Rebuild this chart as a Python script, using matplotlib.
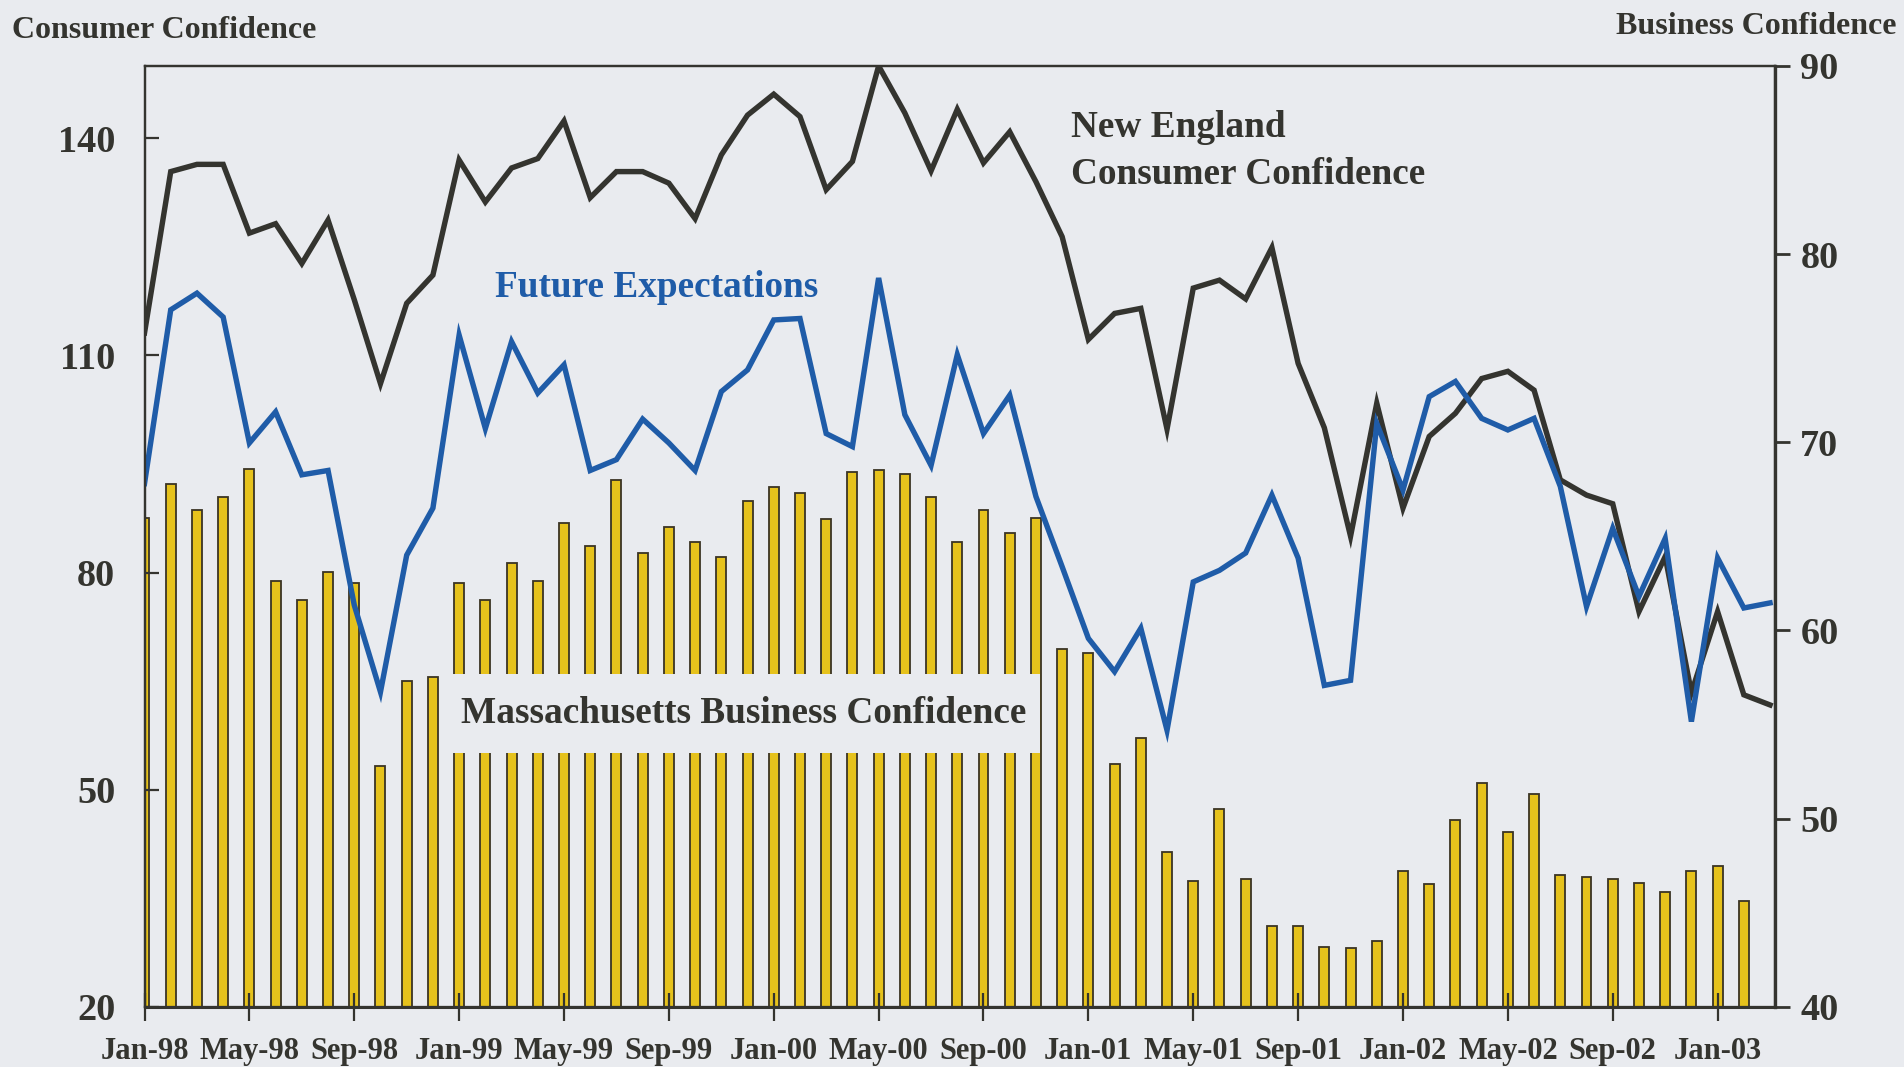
import matplotlib
matplotlib.use('Agg')
import matplotlib.pyplot as plt
import numpy as np

"""
New England consumer confidence vs Massachusetts business confidence, Jan-98 to Mar-03
"""

tick_labels = ['Jan-98', 'May-98', 'Sep-98', 'Jan-99', 'May-99', 'Sep-99', 'Jan-00', 'May-00',
               'Sep-00', 'Jan-01', 'May-01', 'Sep-01', 'Jan-02', 'May-02', 'Sep-02', 'Jan-03']

# monthly, Jan-98 .. Mar-03 (left scale)
consumer = [113.1, 135.4, 136.4, 136.4, 126.9, 128.2, 122.7, 128.7, 117.7, 106.1, 117.2, 121.1,
            137.0, 131.2, 135.9, 137.2, 142.4, 131.8, 135.4, 135.4, 133.8, 128.9, 137.7, 143.2,
            146.1, 143.0, 132.9, 136.8, 150.0, 143.5, 135.5, 144.0, 136.6, 140.9, 134.0, 126.4,
            112.2, 115.8, 116.5, 99.8, 119.3, 120.4, 117.8, 124.9, 108.9, 100.0, 85.0, 103.4,
            88.9, 98.8, 102.0, 106.8, 107.8, 105.2, 92.8, 90.7, 89.5, 74.6, 82.2, 63.4,
            74.6, 63.1, 61.7]

expectations = [92.3, 116.3, 118.6, 115.3, 97.9, 102.2, 93.5, 94.1, 75.5, 63.5, 82.4, 88.9,
                112.8, 99.9, 111.9, 104.8, 108.7, 94.1, 95.6, 101.2, 97.9, 94.1, 105.0, 108.0,
                114.9, 115.1, 99.2, 97.4, 120.7, 101.8, 94.8, 110.1, 99.2, 104.5, 90.5, 80.8,
                70.9, 66.3, 72.3, 58.2, 78.7, 80.3, 82.7, 90.7, 82.0, 64.4, 65.1, 100.6,
                91.4, 104.3, 106.4, 101.3, 99.7, 101.3, 91.9, 75.3, 86.1, 76.7, 84.7, 59.4,
                82.0, 75.1, 75.8]

# monthly, Jan-98 .. Feb-03 (right scale)
business = [66.0, 67.8, 66.4, 67.1, 68.6, 62.6, 61.6, 63.1, 62.5, 52.8, 57.3, 57.5,
            62.5, 61.6, 63.6, 62.6, 65.7, 64.5, 68.0, 64.1, 65.5, 64.7, 63.9, 66.9,
            67.6, 67.3, 65.9, 68.4, 68.5, 68.3, 67.1, 64.7, 66.4, 65.2, 66.0, 59.0,
            58.8, 52.9, 54.3, 48.2, 46.7, 50.5, 46.8, 44.3, 44.3, 43.2, 43.1, 43.5,
            47.2, 46.5, 49.9, 51.9, 49.3, 51.3, 47.0, 46.9, 46.8, 46.6, 46.1, 47.2,
            47.5, 45.6]

bg = '#e9ebef'
dark = '#34342f'
blue = '#1f5ca8'
gold = '#e6c21c'

plt.rcParams['font.family'] = 'Liberation Serif'
plt.rcParams['font.weight'] = 'bold'


def makeChart():
    fig = plt.figure(figsize=(19.04, 10.67), dpi=100, facecolor=bg)
    ax = fig.add_axes([0.0759, 0.0565, 0.8565, 0.8817])
    ax2 = ax.twinx()

    x_line = np.arange(len(consumer))
    x_bar = np.arange(len(business))

    ax2.bar(x_bar, business, 0.38, color=gold, edgecolor='#3a3424', linewidth=1.3, zorder=2)
    ax2.set_ylim(40, 90)
    ax2.set_yticks([40, 50, 60, 70, 80, 90])

    ax.plot(x_line, consumer, color=dark, lw=3.9, solid_joinstyle='miter')
    ax.plot(x_line, expectations, color=blue, lw=3.9, solid_joinstyle='miter')
    ax.set_ylim(20, 150)
    ax.set_yticks([20, 50, 80, 110, 140])
    ax.set_xlim(0, 62.2)
    ax.set_xticks(np.arange(0, 61, 4))
    ax.set_xticklabels(tick_labels)

    ax.set_zorder(ax2.get_zorder() + 1)
    ax.patch.set_visible(False)
    ax2.patch.set_facecolor(bg)

    for a in (ax, ax2):
        for s in a.spines.values():
            s.set_color(dark)
            s.set_linewidth(1.6)
    ax2.spines['right'].set_linewidth(2.4)
    ax.spines['bottom'].set_linewidth(2.2)

    ax.tick_params(axis='y', direction='in', length=10, width=1.6, pad=21,
                   labelsize=27.5, colors=dark)
    ax.tick_params(axis='x', direction='inout', length=20, width=1.6, pad=12,
                   labelsize=22, colors=dark)
    ax2.tick_params(axis='y', direction='out', length=11, width=2.0, pad=7,
                    labelsize=27.5, colors=dark)

    ax.text(35.35, 138.2, 'New England\nConsumer Confidence', fontsize=26.8,
            color=dark, va='center', ha='left', linespacing=1.45)
    ax.text(13.37, 119.4, 'Future Expectations', fontsize=26.8, color=blue,
            va='center', ha='left')
    ax2.text(12.08, 55.6, 'Massachusetts Business Confidence', fontsize=26.8,
             color=dark, va='center', ha='left', zorder=5,
             bbox=dict(boxstyle='square,pad=0.35', facecolor=bg, edgecolor=bg,
                       linewidth=0, mutation_aspect=1.7))

    fig.text(12 / 1904, 1 - 31 / 1067, 'Consumer Confidence', fontsize=23,
             color=dark, va='center', ha='left')
    fig.text(1897 / 1904, 1 - 26 / 1067, 'Business Confidence', fontsize=23,
             color=dark, va='center', ha='right')

    fig.savefig('out.png', dpi=100, facecolor=bg)


if __name__ == '__main__':
    makeChart()
